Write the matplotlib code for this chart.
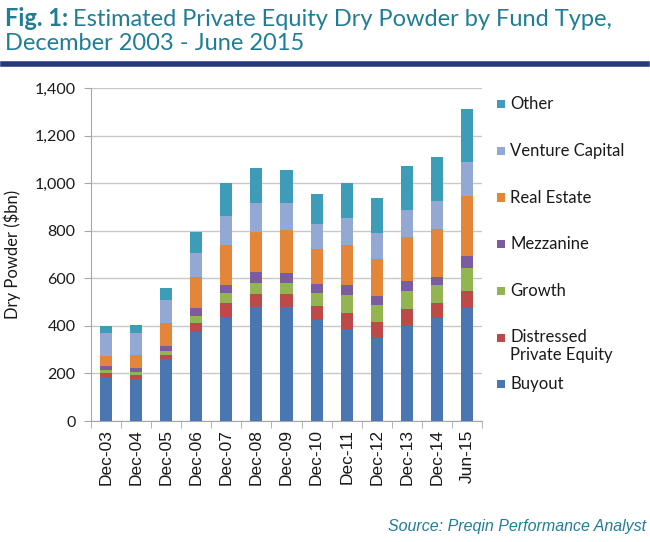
import matplotlib
matplotlib.use('Agg')
import matplotlib.pyplot as plt
from matplotlib.patches import Rectangle
import numpy as np

# Dry powder ($bn) by fund type
periods = ["Dec-03", "Dec-04", "Dec-05", "Dec-06", "Dec-07", "Dec-08", "Dec-09",
           "Dec-10", "Dec-11", "Dec-12", "Dec-13", "Dec-14", "Jun-15"]
buyout = [185, 175, 259, 376, 439, 478, 478, 423, 388, 350, 398, 432, 474]
distressed = [18, 20, 19, 38, 57, 56, 56, 61, 68, 65, 73, 64, 73]
growth = [11, 10, 16, 26, 42, 46, 48, 54, 74, 73, 77, 74, 98]
mezzanine = [19, 18, 21, 34, 32, 45, 42, 37, 42, 36, 41, 36, 47]
real_estate = [39, 55, 99, 133, 170, 168, 181, 150, 168, 156, 185, 200, 253]
venture = [99, 91, 93, 99, 122, 124, 110, 102, 114, 110, 113, 121, 143]
other = [29, 35, 51, 89, 137, 147, 142, 128, 146, 149, 185, 183, 224]

series = [
    ("Buyout", buyout, "#4a76b1"),
    ("Distressed\nPrivate Equity", distressed, "#bd4a48"),
    ("Growth", growth, "#92b552"),
    ("Mezzanine", mezzanine, "#7b5c9e"),
    ("Real Estate", real_estate, "#e4863a"),
    ("Venture Capital", venture, "#94a8d4"),
    ("Other", other, "#3d9cb8"),
]

TEAL = "#1f7e96"
GRID = "#c8c8c8"
TEXT = "#1a1a1a"

fig = plt.figure(figsize=(6.5, 5.42), dpi=100)
ax = fig.add_axes([0.14, 0.2232, 0.6015, 0.6144])

x = np.arange(len(periods))
bottom = np.zeros(len(periods))
for label, vals, color in series:
    ax.bar(x, vals, width=0.4, bottom=bottom, color=color, label=label, zorder=3)
    bottom += np.array(vals)

ax.set_xlim(-0.5, len(periods) - 0.5)
ax.set_ylim(0, 1400)
ax.set_yticks(np.arange(0, 1401, 200))
ax.set_yticklabels([f"{v:,}" for v in range(0, 1401, 200)], family="Lato", fontsize=11.5, color=TEXT)
ax.set_xticks(x)
ax.set_xticklabels(periods, rotation=90, family="Liberation Sans", fontsize=12.5, color=TEXT)
ax.set_xticks(np.arange(-0.5, len(periods), 1), minor=True)
ax.tick_params(axis="x", which="major", length=0, pad=6)
ax.tick_params(axis="x", which="minor", length=5, color="#a6a6a6", direction="out")
ax.tick_params(axis="y", length=5, color="#a6a6a6", pad=6)

ax.grid(axis="y", color=GRID, linewidth=1, zorder=0)
for side in ["top", "right"]:
    ax.spines[side].set_visible(False)
for side in ["left", "bottom"]:
    ax.spines[side].set_color("#a6a6a6")
ax.set_ylabel("Dry Powder ($bn)", family="Lato", fontsize=12, color=TEXT)
ax.yaxis.set_label_coords(-0.178, 0.5)

# legend, laid out like the Excel original (top entry = last series)
leg_top = 0.808
leg_step = 0.0862
for i, (label, vals, color) in enumerate(reversed(series)):
    y = leg_top - i * leg_step
    fig.patches.append(Rectangle((0.765, y - 0.0075), 0.0125, 0.015, transform=fig.transFigure,
                                 facecolor=color, edgecolor="none"))
    fig.text(0.785, y, label, family="Lato", fontsize=12, color=TEXT, va="top" if "\n" in label else "center",
             linespacing=1.15)
# nudge the two-line label so its first line sits on the key
for t in fig.texts:
    if "\n" in t.get_text():
        t.set_y(t.get_position()[1] + 0.016)

# title block
r = fig.canvas.get_renderer()
t1 = fig.text(0.008, 0.952, "Fig. 1:", family="Lato", weight="bold", fontsize=17, color=TEAL, va="baseline")
bb = t1.get_window_extent(renderer=r)
fig.text(bb.x1 / fig.bbox.width + 0.007, 0.952, "Estimated Private Equity Dry Powder by Fund Type,",
         family="Lato", fontsize=17, color=TEAL, va="baseline")
fig.text(0.008, 0.908, "December 2003 - June 2015", family="Lato", fontsize=17,
         color=TEAL, va="baseline")
fig.add_artist(plt.Line2D([0.005, 0.995], [0.881, 0.881], transform=fig.transFigure,
                          color="#27397a", linewidth=4))

fig.text(0.994, 0.02, "Source: Preqin Performance Analyst", family="Liberation Sans", style="italic",
         fontsize=11.5, color=TEAL, ha="right", va="baseline")

fig.savefig("out.png", dpi=100)
